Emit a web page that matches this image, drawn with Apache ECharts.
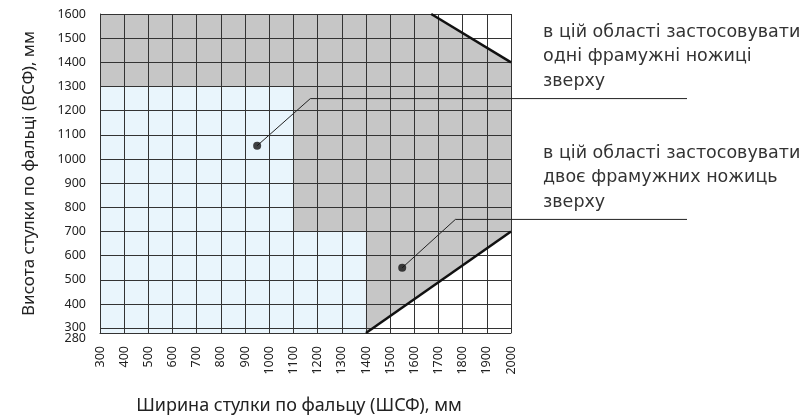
<!DOCTYPE html>
<html><head><meta charset="utf-8">
<script src="https://cdn.jsdelivr.net/npm/echarts@6/dist/echarts.min.js"></script>
<style>html,body{margin:0;padding:0;background:#fff}#c{width:809px;height:420px}</style>
</head><body><div id="c"></div>
<script>
// Axis ticks
var xTicks = [300,400,500,600,700,800,900,1000,1100,1200,1300,1400,1500,1600,1700,1800,1900,2000];
var yTicks = [280,300,400,500,600,700,800,900,1000,1100,1200,1300,1400,1500,1600];
// Region outlines (width, height in mm)
var blueRegion = [[300,280],[300,1300],[1100,1300],[1100,700],[1400,700],[1400,280]];
var grayRegion = [[300,1300],[300,1600],[1670,1600],[2000,1400],[2000,700],[1400,280],[1400,700],[1100,700],[1100,1300]];
// Boundary lines
var upperLimit = [[1670,1600],[2000,1400]];
var lowerLimit = [[1400,280],[2000,700]];
// Marker points
var markerPoints = [[950,1055],[1550,550]];
// Leader lines: marker -> elbow
var leader1 = [[950,1055],[1170,1250]];
var leader2 = [[1550,550],[1770,750]];
// Annotation texts
var note1 = ['в цій області застосовувати','одні фрамужні ножиці','зверху'];
var note2 = ['в цій області застосовувати','двоє фрамужних ножиць','зверху'];

var chart = echarts.init(document.getElementById('c'));
function polySeries(pts, color){
  return {
    type:'custom', z:1, silent:true,
    data:[0],
    renderItem:function(params, api){
      return {type:'polygon', shape:{points:pts.map(function(p){return api.coord(p);})},
              style:{fill:color, stroke:'none'}};
    }
  };
}
var axisFont = 'Noto Sans';
var lblSize = 12.5;
chart.setOption({
  animation:false,
  grid:{left:100,right:298,top:14,bottom:85},
  xAxis:{type:'value',min:300,max:2000,z:5,
    axisTick:{show:false, customValues:xTicks},
    axisLine:{lineStyle:{color:'#333',width:1}},
    axisLabel:{customValues:xTicks,rotate:90,margin:13,color:'#222',fontSize:lblSize,fontFamily:axisFont,
      hideOverlap:false,showMinLabel:true,showMaxLabel:true,formatter:function(v){return String(v);}},
    splitLine:{show:true,lineStyle:{color:'#333',width:1}},
    name:'Ширина стулки по фальцу (ШСФ), мм',nameLocation:'middle',nameGap:64,
    nameTextStyle:{fontSize:18,color:'#222',fontFamily:axisFont,padding:[0,13,0,0]}
  },
  yAxis:{type:'value',min:280,max:1600,z:5,
    axisTick:{show:false, customValues:yTicks},
    axisLine:{show:true,lineStyle:{color:'#333',width:1}},
    axisLabel:{customValues:yTicks,margin:14,color:'#222',fontSize:lblSize,fontFamily:axisFont,
      hideOverlap:false,showMinLabel:true,showMaxLabel:true,
      formatter:function(v){
        // 300 and 280 sit 5px apart: draw them as one stacked label at the bottom tick
        if(v===300) return '';
        if(v===280) return '{a|300}\n{a|280}';
        return String(v);
      },
      rich:{
        a:{fontSize:lblSize,fontFamily:axisFont,color:'#222',lineHeight:11,align:'right'}
      }},
    splitLine:{show:true,lineStyle:{color:'#333',width:1}},
    name:'Висота стулки по фальці (ВСФ), мм',nameLocation:'middle',nameGap:62,
    nameTextStyle:{fontSize:17,color:'#222',fontFamily:axisFont}
  },
  series:[
    polySeries(blueRegion,'#e9f5fc'),
    polySeries(grayRegion,'#c6c6c6'),
    {type:'line',data:upperLimit,symbol:'none',z:10,lineStyle:{color:'#111',width:2.5},silent:true},
    {type:'line',data:lowerLimit,symbol:'none',z:10,lineStyle:{color:'#111',width:2.5},silent:true},
    {type:'line',data:leader1,symbol:'none',z:10,lineStyle:{color:'#222',width:1},silent:true},
    {type:'line',data:leader2,symbol:'none',z:10,lineStyle:{color:'#222',width:1},silent:true},
    {type:'scatter',data:markerPoints,symbolSize:8,z:11,itemStyle:{color:'#111'},silent:true}
  ]
});
// horizontal leader extensions from the elbows to under the notes
var leaderEndX = 687;
var e1 = chart.convertToPixel({gridIndex:0}, leader1[leader1.length-1]);
var e2 = chart.convertToPixel({gridIndex:0}, leader2[leader2.length-1]);
chart.setOption({
  graphic:[
    {type:'line',shape:{x1:e1[0],y1:e1[1],x2:leaderEndX,y2:e1[1]},style:{stroke:'#222',lineWidth:1},z:20},
    {type:'line',shape:{x1:e2[0],y1:e2[1],x2:leaderEndX,y2:e2[1]},style:{stroke:'#222',lineWidth:1},z:20},
    {type:'text',left:543,top:20,style:{text:note1.join('\n'),fontSize:17.5,lineHeight:24.5,fill:'#333',fontFamily:'DejaVu Sans'}},
    {type:'text',left:543,top:141,style:{text:note2.join('\n'),fontSize:17.5,lineHeight:24.5,fill:'#333',fontFamily:'DejaVu Sans'}}
  ]
});
</script></body></html>
